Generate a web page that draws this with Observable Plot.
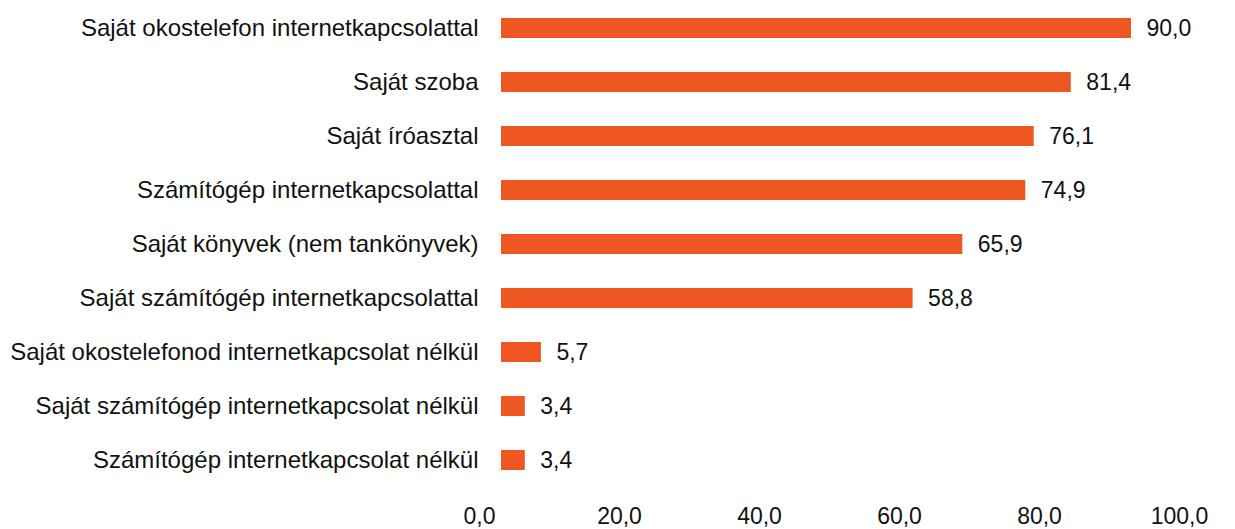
<!DOCTYPE html>
<html>
<head>
<meta charset="utf-8">
<script src="https://cdn.jsdelivr.net/npm/d3@7"></script>
<script src="https://cdn.jsdelivr.net/npm/@observablehq/plot@0.6"></script>
<style>
  html, body { margin: 0; padding: 0; background: #fff; }
  #chart svg { display: block; }
</style>
</head>
<body>
<div id="chart"></div>
<script>
const categories = [
  "Saját okostelefon internetkapcsolattal",
  "Saját szoba",
  "Saját íróasztal",
  "Számítógép internetkapcsolattal",
  "Saját könyvek (nem tankönyvek)",
  "Saját számítógép internetkapcsolattal",
  "Saját okostelefonod internetkapcsolat nélkül",
  "Saját számítógép internetkapcsolat nélkül",
  "Számítógép internetkapcsolat nélkül"
];
const values = [90.0, 81.4, 76.1, 74.9, 65.9, 58.8, 5.7, 3.4, 3.4];
const xTicks = [0, 20, 40, 60, 80, 100];

const data = categories.map((c, i) => ({category: c, value: values[i]}));
const fmt = v => v.toFixed(1).replace(".", ",");

const chart = Plot.plot({
  width: 1235,
  height: 529,
  marginLeft: 501,
  marginRight: 34,
  marginTop: 17,
  marginBottom: 58,
  style: {fontFamily: "'Liberation Sans', Arial, sans-serif", fontSize: "23px", color: "#111"},
  x: {domain: [0, 100], label: null},
  y: {domain: categories, label: null, paddingInner: 0.63, paddingOuter: 0},
  marks: [
    Plot.gridX(xTicks.slice(1), {stroke: "#e8e8e8", strokeOpacity: 1, strokeWidth: 1, y1: 0, y2: 530}),
    Plot.axisX(xTicks, {tickSize: 0, tickPadding: 36, tickFormat: fmt, dx: -22, fontSize: 23, fill: "#111", label: null}),
    Plot.axisY({tickSize: 0, tickPadding: 23, fontSize: 24, fill: "#111", label: null}),
    Plot.barX(data, {y: "category", x: "value", fill: "#ee5622"}),
    Plot.text(data, {y: "category", x: "value", text: d => fmt(d.value), textAnchor: "start", dx: 15, fontSize: 23, fill: "#111"})
  ]
});
document.getElementById("chart").appendChild(chart);
</script>
</body>
</html>
